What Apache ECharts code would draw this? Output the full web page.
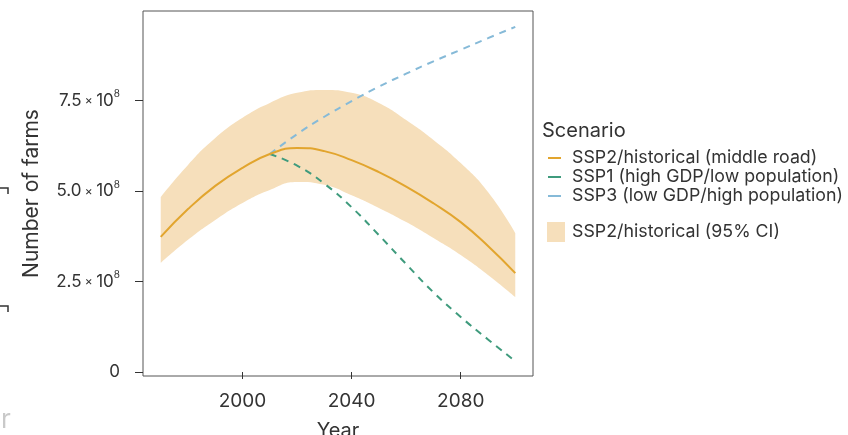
<!DOCTYPE html>
<html>
<head>
<meta charset="utf-8">
<script src="https://cdn.jsdelivr.net/npm/echarts@6/dist/echarts.min.js"></script>
<style>
  html, body { margin: 0; padding: 0; background: #fff; }
  #chart { width: 848px; height: 435px; }
</style>
</head>
<body>
<div id="chart"></div>
<script>
// Projected number of farms (units of 1e8), decadal steps
const years = [1970, 1980, 1990, 2000, 2010, 2020, 2030, 2040, 2050, 2060, 2070, 2080, 2090, 2100];
const ssp2Mid   = [3.73, 4.50, 5.14, 5.64, 6.02, 6.19, 6.10, 5.85, 5.52, 5.12, 4.66, 4.14, 3.48, 2.73];
const ssp2Upper = [4.83, 5.72, 6.46, 7.02, 7.43, 7.71, 7.79, 7.71, 7.43, 6.96, 6.41, 5.77, 4.97, 3.84];
const ssp2Lower = [3.01, 3.65, 4.20, 4.67, 5.03, 5.25, 5.17, 4.88, 4.53, 4.14, 3.70, 3.23, 2.68, 2.07];

// Alternative scenarios branch off the middle road in 2010
const scenarioYears = [2010, 2020, 2030, 2040, 2050, 2060, 2070, 2080, 2090, 2100];
const ssp1 = [6.02, 5.70, 5.20, 4.55, 3.78, 2.98, 2.20, 1.52, 0.90, 0.30];
const ssp3 = [6.02, 6.57, 7.05, 7.48, 7.88, 8.24, 8.58, 8.90, 9.22, 9.53];

const xTicks = [2000, 2040, 2080];
const yTicks = [0, 2.5e8, 5.0e8, 7.5e8];

const SCALE = 1e8;
const pairs = (xs, vs) => xs.map((x, i) => [x, vs[i] * SCALE]);
// rows as [value, year] so the stack runs along the value dimension
const flipped = (xs, vs) => xs.map((x, i) => [vs[i] * SCALE, x]);

const C_MID = '#E2A52E';
const C_BAND = '#F6DFBB';
const C_SSP1 = '#3F9B7D';
const C_SSP3 = '#86BAD8';
const FONT = 'Inter, "Noto Sans", sans-serif';
const TXT = '#333';

const chart = echarts.init(document.getElementById('chart'), null, { renderer: 'canvas' });

// Legend drawn as plain graphic elements
const legendX = 548;
const legendItems = [
  { y: 158, color: C_MID, label: 'SSP2/historical (middle road)' },
  { y: 177, color: C_SSP1, label: 'SSP1 (high GDP/low population)' },
  { y: 196, color: C_SSP3, label: 'SSP3 (low GDP/high population)' }
];
const graphics = [
  { type: 'text', x: 542, y: 131, style: { text: 'Scenario', font: '20px ' + FONT, fill: TXT, verticalAlign: 'middle' } }
];
legendItems.forEach(it => {
  graphics.push({ type: 'line', shape: { x1: legendX, y1: it.y, x2: legendX + 13, y2: it.y },
    style: { stroke: it.color, lineWidth: 2 } });
  graphics.push({ type: 'text', x: 572, y: it.y,
    style: { text: it.label, font: '17.8px ' + FONT, fill: TXT, verticalAlign: 'middle' } });
});
graphics.push({ type: 'rect', shape: { x: 547, y: 222, width: 18, height: 20 }, style: { fill: C_BAND } });
graphics.push({ type: 'text', x: 572, y: 232, style: { text: 'SSP2/historical (95% CI)', font: '17.8px ' + FONT, fill: TXT, verticalAlign: 'middle' } });
// bracket fragments at the left edge
graphics.push({ type: 'polyline', shape: { points: [[0, 188], [8, 188], [8, 194]] }, style: { stroke: '#333', lineWidth: 1.5, fill: null } });
graphics.push({ type: 'polyline', shape: { points: [[0, 306], [8, 306], [8, 312]] }, style: { stroke: '#333', lineWidth: 1.5, fill: null } });
graphics.push({ type: 'text', x: 1, y: 407, style: { text: 'r', font: '26px ' + FONT, fill: '#c9c9c9' } });

chart.setOption({
  animation: false,
  backgroundColor: '#fff',
  grid: { left: 143, top: 11, width: 390, height: 365, show: true, borderColor: '#555', borderWidth: 1,
    containLabel: false, outerBoundsMode: 'none' },
  xAxis: {
    type: 'value', min: 1963.5, max: 2106.5,
    name: 'Year', nameLocation: 'middle', nameGap: 45,
    nameTextStyle: { fontFamily: FONT, fontSize: 20, color: TXT },
    axisLine: { show: false },
    splitLine: { show: false },
    axisTick: { show: true, inside: false, length: 7, customValues: xTicks, lineStyle: { color: '#333' } },
    axisLabel: { customValues: xTicks, margin: 16, fontFamily: FONT, fontSize: 19, color: TXT, formatter: v => String(v) }
  },
  yAxis: {
    type: 'value', min: -0.11e8, max: 9.97e8,
    name: 'Number of farms', nameLocation: 'middle', nameGap: 101,
    nameTextStyle: { fontFamily: FONT, fontSize: 21, color: TXT },
    axisLine: { show: false },
    splitLine: { show: false },
    axisTick: { show: true, inside: false, length: 8, customValues: yTicks, lineStyle: { color: '#333' } },
    axisLabel: {
      customValues: yTicks, margin: 23, fontFamily: FONT, color: TXT,
      formatter: v => v === 0 ? '{m|0}' : '{m|' + (v / 1e8).toFixed(1) + '} {x|×} {m|10}{e|8}',
      rich: {
        m: { fontFamily: FONT, fontSize: 17, color: TXT, lineHeight: 22 },
        x: { fontFamily: FONT, fontSize: 12, color: TXT },
        e: { fontFamily: FONT, fontSize: 10, color: TXT, verticalAlign: 'top' }
      }
    }
  },
  series: [
    // 95% CI ribbon: invisible lower bound, band thickness stacked on top of it
    { name: 'ci-lower', type: 'line', stack: 'ci', encode: { x: 1, y: 0 },
      data: flipped(years, ssp2Lower), smooth: true,
      symbol: 'none', lineStyle: { width: 0, opacity: 0 }, silent: true, z: 1 },
    { name: 'SSP2/historical (95% CI)', type: 'line', stack: 'ci', encode: { x: 1, y: 0 },
      data: years.map((x, i) => [(ssp2Upper[i] - ssp2Lower[i]) * SCALE, x]), smooth: true,
      symbol: 'none', lineStyle: { width: 0, opacity: 0 }, areaStyle: { color: C_BAND, opacity: 1 }, silent: true, z: 1 },
    { name: 'SSP1 (high GDP/low population)', type: 'line', data: pairs(scenarioYears, ssp1), smooth: true,
      symbol: 'none', lineStyle: { color: C_SSP1, width: 2, type: [7, 6] }, z: 3 },
    { name: 'SSP3 (low GDP/high population)', type: 'line', data: pairs(scenarioYears, ssp3), smooth: true,
      symbol: 'none', lineStyle: { color: C_SSP3, width: 2, type: [7, 6] }, z: 3 },
    { name: 'SSP2/historical (middle road)', type: 'line', data: pairs(years, ssp2Mid), smooth: true,
      symbol: 'none', lineStyle: { color: C_MID, width: 2 }, z: 4 }
  ],
  graphic: graphics
});
</script>
</body>
</html>
